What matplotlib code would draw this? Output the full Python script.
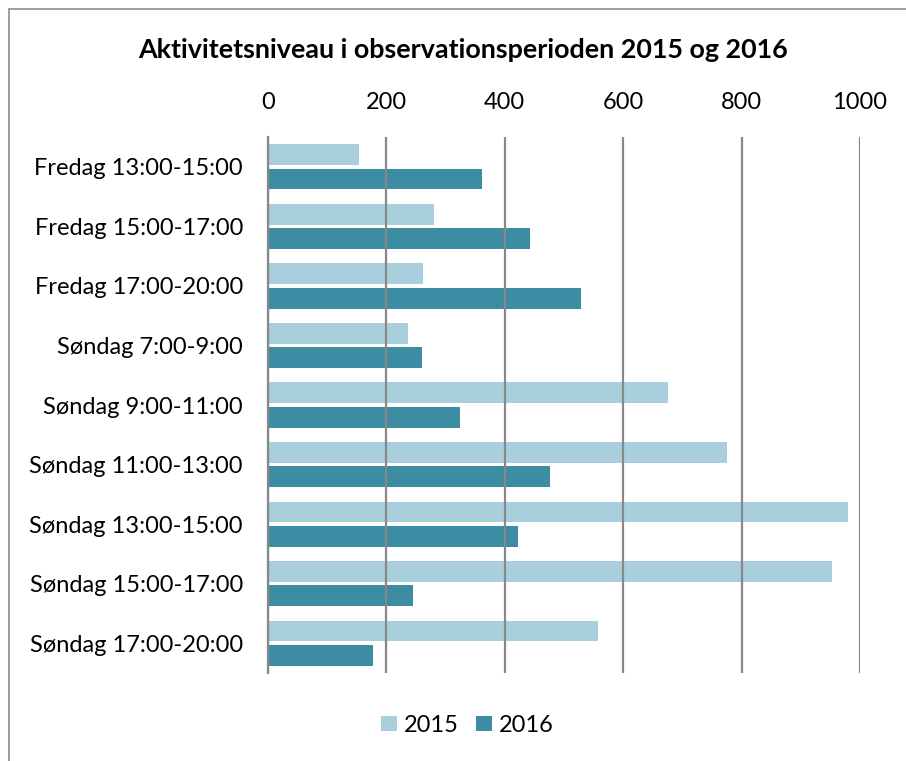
import matplotlib.pyplot as plt
import numpy as np
from matplotlib.patches import Rectangle

plt.rcParams['font.family'] = ['Lato', 'DejaVu Sans']

perioder = ['Fredag 13:00-15:00', 'Fredag 15:00-17:00', 'Fredag 17:00-20:00',
            'Søndag 7:00-9:00', 'Søndag 9:00-11:00', 'Søndag 11:00-13:00',
            'Søndag 13:00-15:00', 'Søndag 15:00-17:00', 'Søndag 17:00-20:00']
v2015 = [153, 281, 261, 237, 675, 775, 979, 953, 557]
v2016 = [362, 442, 528, 260, 324, 476, 422, 245, 177]
xticks = [0, 200, 400, 600, 800, 1000]

fig = plt.figure(figsize=(9.06, 7.61), dpi=100)
ax = fig.add_axes([0.2958, 0.1156, 0.6534, 0.7043])

# ydre ramme
fig.patches.append(Rectangle((9 / 906, -0.1), 1.2, 1.1 - 10 / 761 + 0.001,
                             transform=fig.transFigure, fill=False,
                             edgecolor='#8c8c8c', linewidth=1.2))

y = np.arange(len(perioder))
h = 0.35
ax.barh(y - 0.205, v2015, height=h, color='#a9cfdc', label='2015', zorder=1)
ax.barh(y + 0.205, v2016, height=h, color='#3c8ca3', label='2016', zorder=2)

ax.set_xlim(0, 1000)
ax.set_ylim(len(perioder) - 0.5, -0.5)
ax.set_xticks(xticks)
ax.set_yticks(y)
ax.set_yticklabels(perioder)
ax.xaxis.tick_top()
ax.tick_params(axis='both', length=0, labelsize=17)
ax.tick_params(axis='x', pad=17)
ax.tick_params(axis='y', pad=18)
ax.grid(axis='x', color='#888888', linewidth=1.6, zorder=3)
ax.set_axisbelow(False)
for s in ['top', 'right', 'bottom']:
    ax.spines[s].set_visible(False)
ax.spines['left'].set_color('#888888')
ax.spines['left'].set_linewidth(1.6)

fig.text(0.511, 0.934, 'Aktivitetsniveau i observationsperioden 2015 og 2016',
         ha='center', va='center', fontsize=19.4, fontweight='bold')

fig.legend(loc='center', bbox_to_anchor=(0.516, 0.047), ncol=2, frameon=False,
           fontsize=17, handlelength=0.65, handleheight=0.65, handletextpad=0.3,
           columnspacing=0.75)

plt.savefig('out.png', dpi=100)
